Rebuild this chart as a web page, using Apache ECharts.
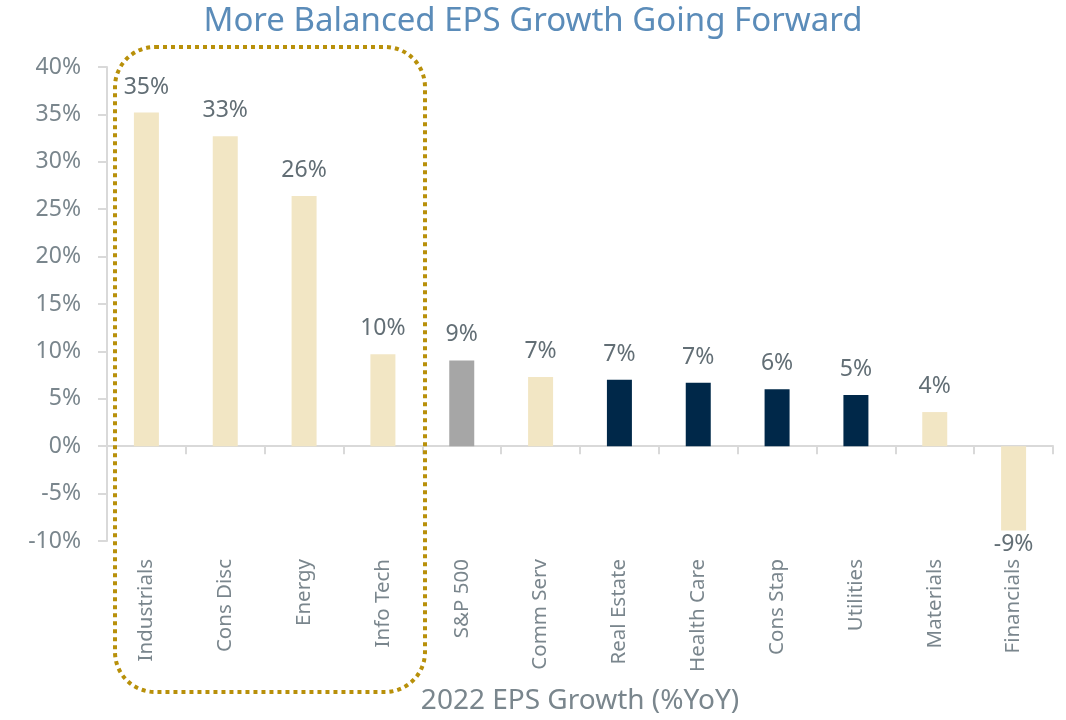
<!DOCTYPE html>
<html>
<head>
<meta charset="utf-8">
<title>EPS Growth</title>
<script src="https://cdn.jsdelivr.net/npm/echarts@6/dist/echarts.min.js"></script>
<style>
  html, body { margin: 0; padding: 0; background: #fff; }
  #chart { width: 1066px; height: 720px; }
</style>
</head>
<body>
<div id="chart"></div>
<script>
// 数据
var categories = ['Industrials', 'Cons Disc', 'Energy', 'Info Tech', 'S&P 500', 'Comm Serv',
    'Real Estate', 'Health Care', 'Cons Stap', 'Utilities', 'Materials', 'Financials'];
var growth = [35.2, 32.7, 26.4, 9.7, 9.05, 7.3, 7.0, 6.7, 6.0, 5.4, 3.6, -8.9];
// 分组: cyc = 周期类, idx = 指数, def = 防御类
var groups = ['cyc', 'cyc', 'cyc', 'cyc', 'idx', 'cyc', 'def', 'def', 'def', 'def', 'cyc', 'cyc'];
var yTicks = { min: -10, max: 40, step: 5 };

var groupColor = { cyc: '#f2e6c4', idx: '#a6a6a6', def: '#002849' };
var fontName = 'Noto Sans';
var grayText = '#7a868d';

var myChart = echarts.init(document.getElementById('chart'));

var barData = growth.map(function(v, i) {
    return {
        value: v,
        itemStyle: { color: groupColor[groups[i]] },
        label: { position: v < 0 ? 'bottom' : 'top', distance: v < 0 ? 2 : 14 }
    };
});

var option = {
    animation: false,
    title: {
        text: 'More Balanced EPS Growth Going Forward',
        left: 'center',
        top: 0,
        textStyle: {
            fontFamily: fontName,
            fontWeight: 'normal',
            fontSize: 33,
            color: '#5b8cb9'
        }
    },
    grid: { left: 107, right: 13, top: 67, bottom: 178 },
    xAxis: [{
        type: 'category',
        data: categories,
        axisLine: { onZero: true, lineStyle: { color: '#d9d9d9', width: 2 } },
        axisTick: { show: true, interval: 0, length: 8, lineStyle: { color: '#d9d9d9', width: 2 } },
        axisLabel: { show: false }
    }, {
        type: 'category',
        data: categories,
        position: 'bottom',
        axisLine: { show: false, onZero: false },
        axisTick: { show: false },
        axisLabel: {
            interval: 0,
            rotate: 90,
            margin: 18,
            fontFamily: fontName,
            fontSize: 20.5,
            color: grayText
        },
        name: '2022 EPS Growth (%YoY)',
        nameLocation: 'middle',
        nameGap: 146,
        nameTextStyle: { fontFamily: fontName, fontSize: 28, color: grayText }
    }],
    yAxis: {
        type: 'value',
        min: yTicks.min,
        max: yTicks.max,
        interval: yTicks.step,
        axisLine: { show: true, lineStyle: { color: '#d9d9d9', width: 2 } },
        axisTick: { show: true, length: 9, lineStyle: { color: '#d9d9d9', width: 2 } },
        splitLine: { show: false },
        axisLabel: {
            formatter: '{value}%',
            margin: 26,
            fontFamily: fontName,
            fontSize: 23,
            color: grayText
        }
    },
    series: [{
        type: 'bar',
        xAxisIndex: 0,
        data: barData,
        barWidth: 25,
        label: {
            show: true,
            fontFamily: fontName,
            fontSize: 23,
            color: '#626e75',
            formatter: function(p) { return Math.round(p.value) + '%'; }
        }
    }],
    // 虚线圆角框
    graphic: [{
        type: 'rect',
        shape: { x: 115, y: 47, width: 310, height: 645, r: 40 },
        style: { fill: 'none', stroke: '#b8900a', lineWidth: 4, lineDash: [4, 4] },
        z: 10
    }]
};

myChart.setOption(option);
</script>
</body>
</html>
